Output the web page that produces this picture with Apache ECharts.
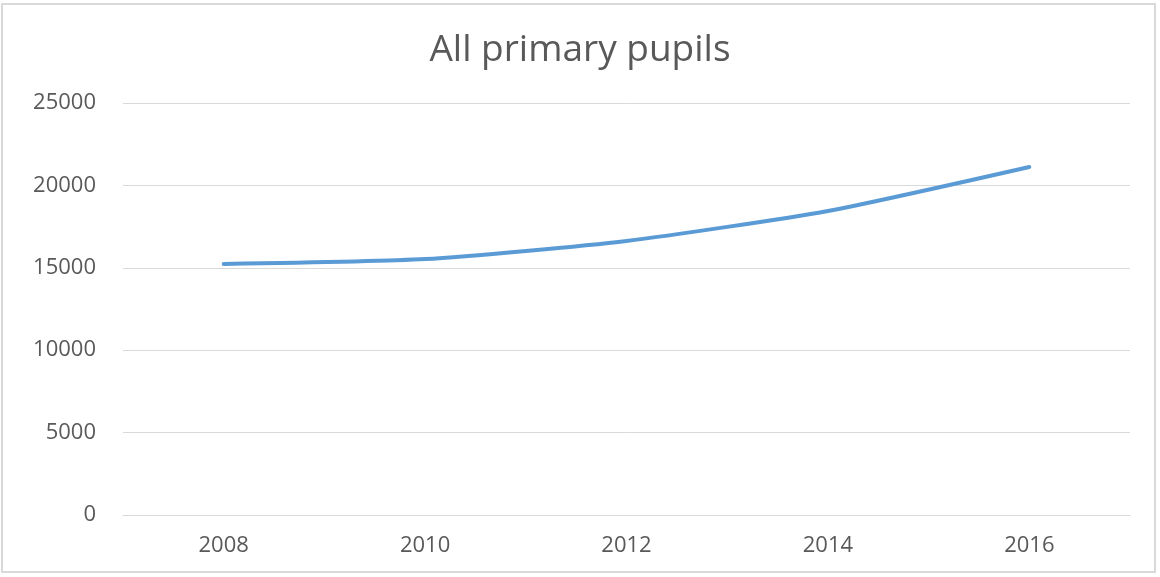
<!DOCTYPE html>
<html>
<head>
<meta charset="utf-8">
<script src="https://cdn.jsdelivr.net/npm/echarts@6/dist/echarts.min.js"></script>
<style>
html,body{margin:0;padding:0;background:#fff;}
#frame{position:absolute;left:1px;top:3px;width:1155px;height:570px;border:2px solid #d9d9d9;box-sizing:border-box;}
#chart{position:absolute;left:0;top:0;width:1160px;height:577px;}
</style>
</head>
<body>
<div id="frame"></div>
<div id="chart"></div>
<script>
var categories = ['2008', '2010', '2012', '2014', '2016'];
var pupils = [15230, 15530, 16630, 18450, 21120];
var yTicks = [0, 5000, 10000, 15000, 20000, 25000];

var chart = echarts.init(document.getElementById('chart'));
var fontFam = '"Open Sans", sans-serif';
chart.setOption({
  animation: false,
  title: {
    text: 'All primary pupils',
    left: 'center',
    top: 27,
    textStyle: {fontFamily: fontFam, fontSize: 37, fontWeight: 'normal', color: '#595959'}
  },
  grid: {left: 123, right: 30, top: 103, bottom: 62},
  xAxis: {
    type: 'category',
    data: categories,
    boundaryGap: true,
    axisLine: {show: true, lineStyle: {color: '#d9d9d9', width: 1}},
    axisTick: {show: false},
    axisLabel: {fontFamily: fontFam, fontSize: 22, color: '#595959', margin: 20}
  },
  yAxis: {
    type: 'value',
    min: yTicks[0],
    max: yTicks[yTicks.length - 1],
    interval: 5000,
    axisLine: {show: false},
    axisTick: {show: false},
    splitLine: {lineStyle: {color: '#d9d9d9', width: 1}},
    axisLabel: {fontFamily: fontFam, fontSize: 22, color: '#595959', margin: 27,
      formatter: function (v) { return String(v); }}
  },
  series: [{
    type: 'line',
    data: pupils,
    smooth: 0.2,
    symbol: 'none',
    lineStyle: {color: '#5B9BD5', width: 4, cap: 'round'}
  }]
});
</script>
</body>
</html>
